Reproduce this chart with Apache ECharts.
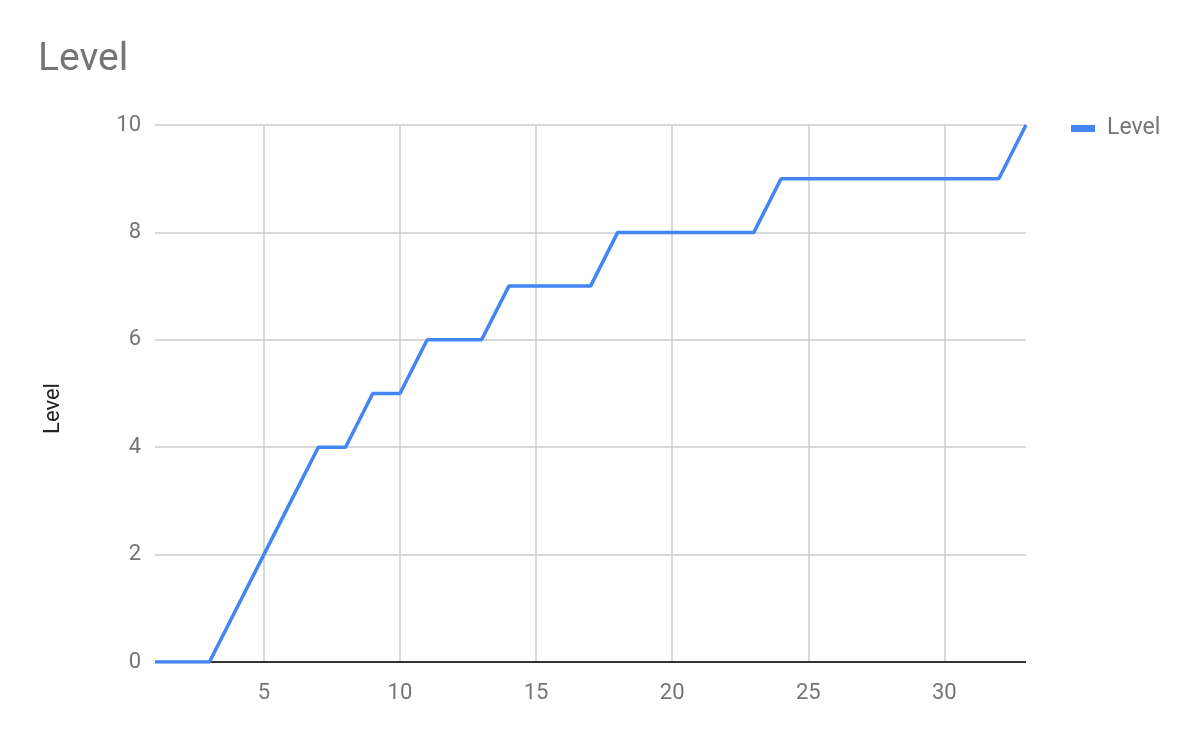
<!DOCTYPE html>
<html>
<head>
<meta charset="utf-8">
<script src="https://cdn.jsdelivr.net/npm/echarts@6/dist/echarts.min.js"></script>
<style>html,body{margin:0;padding:0;background:#fff}#c{width:1200px;height:742px}</style>
</head>
<body>
<div id="c"></div>
<script>
const categories = ['1','2','3','4','5','6','7','8','9','10','11','12','13','14','15','16','17','18','19','20','21','22','23','24','25','26','27','28','29','30','31','32','33'];
const levelValues = [0,0,0,1,2,3,4,4,5,5,6,6,6,7,7,7,7,8,8,8,8,8,8,9,9,9,9,9,9,9,9,9,10];
const yTicks = {min: 0, max: 10, interval: 2};

const chart = echarts.init(document.getElementById('c'));
const font = 'Roboto';
chart.setOption({
  animation: false,
  title: {
    text: 'Level', left: 33, top: 36,
    textStyle: {fontFamily: font, fontSize: 39, fontWeight: 'normal', color: '#757575'}
  },
  legend: {
    data: ['Level'], left: 1066, top: 112, orient: 'vertical',
    itemWidth: 24, itemHeight: 7, itemGap: 10,
    icon: 'rect',
    textStyle: {fontFamily: font, fontSize: 23, color: '#757575', padding: [0,0,0,7]}
  },
  grid: {left: 155, right: 174, top: 125, bottom: 80, containLabel: false},
  xAxis: {
    type: 'category', data: categories, boundaryGap: false,
    axisLine: {show: false},
    axisTick: {show: false},
    axisLabel: {
      fontFamily: font, fontSize: 22, color: '#757575', margin: 20,
      interval: function (i, v) { return Number(v) % 5 === 0; }
    },
    splitLine: {
      show: true, lineStyle: {color: '#cccccc', width: 1.5},
      interval: function (i, v) { return Number(v) % 5 === 0; }
    }
  },
  yAxis: {
    type: 'value', min: yTicks.min, max: yTicks.max, interval: yTicks.interval,
    name: 'Level', nameLocation: 'middle', nameGap: 91, nameRotate: 90,
    nameTextStyle: {fontFamily: font, fontSize: 22, color: '#222', padding: [0, 30, 0, 0]},
    axisLine: {show: false}, axisTick: {show: false},
    axisLabel: {fontFamily: font, fontSize: 22, color: '#757575', margin: 14},
    splitLine: {lineStyle: {color: '#cccccc', width: 1.5}}
  },
  series: [
    {
      name: 'Level', type: 'line', data: levelValues,
      showSymbol: false, symbol: 'none',
      lineStyle: {color: '#4285F4', width: 3.5},
      itemStyle: {color: '#4285F4'},
      markLine: {
        silent: true, symbol: 'none', label: {show: false},
        lineStyle: {color: '#333333', width: 2, type: 'solid'},
        data: [{yAxis: 0}], z: 1
      },
      z: 3
    }
  ]
});
</script>
</body>
</html>
